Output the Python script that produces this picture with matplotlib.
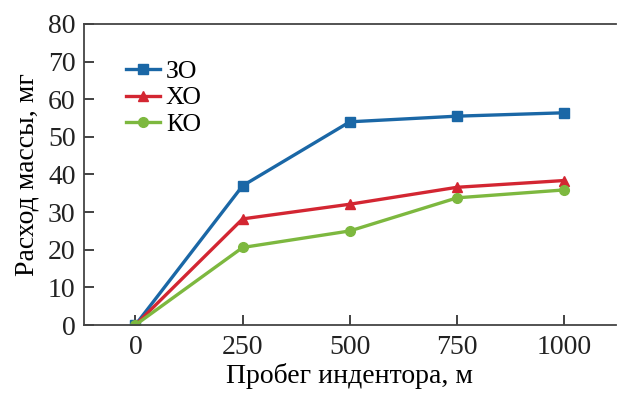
import matplotlib
matplotlib.use("Agg")
from matplotlib import pyplot as plt

# пробег индентора, м
distance = [0, 250, 500, 750, 1000]
# расход массы, мг
zo = [0, 37, 54, 55.5, 56.4]
xo = [0, 28.2, 32.1, 36.6, 38.4]
ko = [0, 20.6, 25, 33.8, 35.9]
labels = ["ЗО", "ХО", "КО"]

plt.rcParams['font.family'] = ['Liberation Serif', 'DejaVu Serif']

fig = plt.figure(figsize=(6.17, 3.93), dpi=100)
ax = fig.add_axes([0.136, 0.173, 0.862, 0.766])

ax.plot(distance, zo, color='#1a67a6', lw=2.4, marker='s', ms=7.5, label=labels[0])
ax.plot(distance, xo, color='#d32632', lw=2.4, marker='^', ms=7, label=labels[1])
ax.plot(distance, ko, color='#7db83f', lw=2.4, marker='o', ms=7, label=labels[2])

ax.set_xlim(-120, 1120)
ax.set_ylim(0, 80)
ax.set_xticks(distance)
ax.set_yticks(range(0, 81, 10))
ax.tick_params(direction='in', labelsize=20, length=7, width=1.2, colors='#222222')
ax.tick_params(axis='x', pad=7)
ax.tick_params(axis='y', pad=6)
for s in ['left', 'bottom', 'top']:
    ax.spines[s].set_linewidth(1.3)
    ax.spines[s].set_color('#444444')
ax.spines['right'].set_visible(False)

ax.set_xlabel("Пробег индентора, м", fontsize=20, labelpad=2)
ax.set_ylabel("Расход массы, мг", fontsize=20, labelpad=6)

ax.legend(loc='upper left', bbox_to_anchor=(0.06, 0.913), frameon=False,
          fontsize=18.5, handlelength=1.3, handletextpad=0.25, labelspacing=0.12,
          borderaxespad=0)

fig.savefig("out.png", dpi=100)
